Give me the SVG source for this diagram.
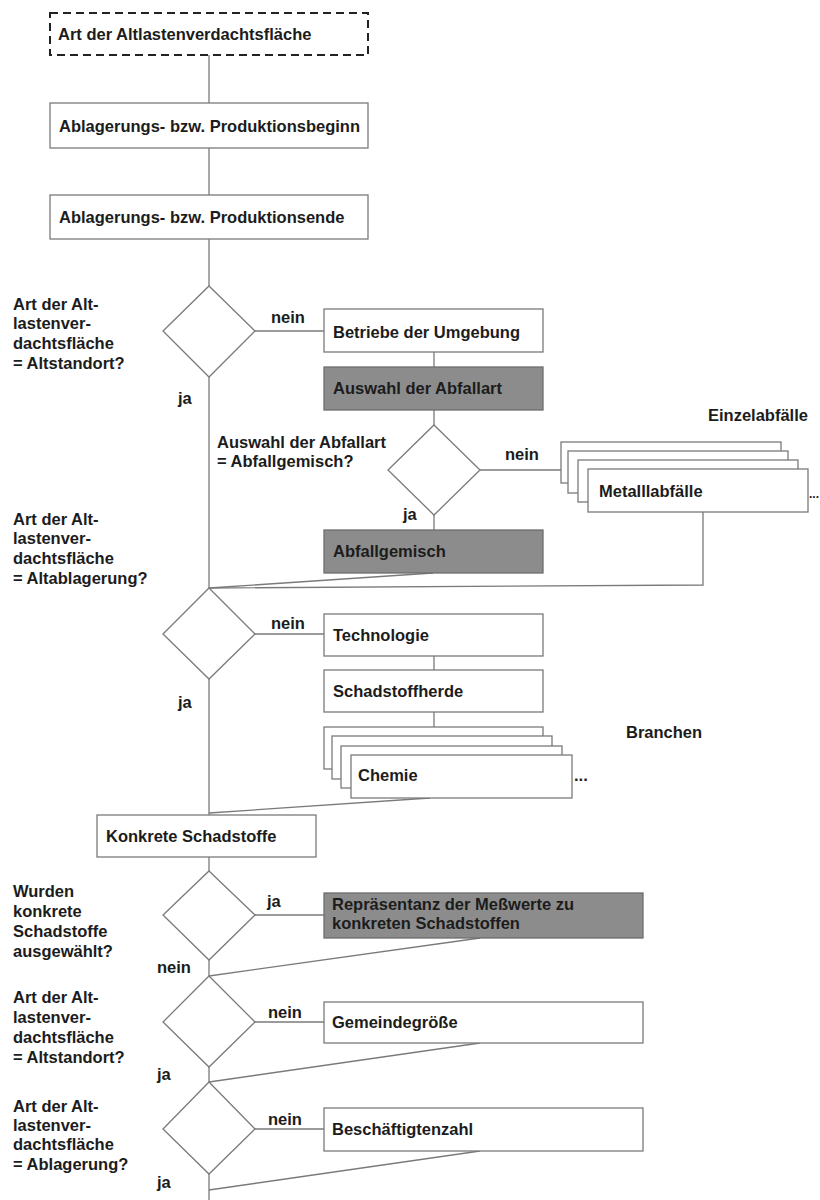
<svg xmlns="http://www.w3.org/2000/svg" width="820" height="1200" viewBox="0 0 820 1200">
<defs>
<style>
text{font-family:"Liberation Sans",Arial,sans-serif;font-weight:bold;font-size:16.5px;fill:#1c1c1c}
.sm{font-size:12px}
.box{fill:#fff;stroke:#7a7a7a;stroke-width:1.3}
.gray{fill:#8c8c8c;stroke:#6e6e6e;stroke-width:1.3}
.dia{fill:#fff;stroke:#7a7a7a;stroke-width:1.3}
.dash{fill:#fff;stroke:#222;stroke-width:2;stroke-dasharray:8 5}
.con{fill:none;stroke:#7a7a7a;stroke-width:1.3}
</style>
</defs>
<rect width="820" height="1200" fill="#fff"/>
<g id="connectors">
<line class="con" x1="209" y1="55" x2="209" y2="1200"/>
<line class="con" x1="255" y1="331" x2="324" y2="331"/>
<line class="con" x1="434" y1="352" x2="434" y2="367"/>
<line class="con" x1="434" y1="410" x2="434" y2="425"/>
<line class="con" x1="480" y1="470" x2="561" y2="470"/>
<line class="con" x1="434" y1="515" x2="434" y2="530"/>
<line class="con" x1="433" y1="573" x2="209" y2="588"/>
<polyline class="con" points="703,512 703,585 209,588"/>
<line class="con" x1="255" y1="634" x2="324" y2="634"/>
<line class="con" x1="434" y1="656" x2="434" y2="670"/>
<line class="con" x1="434" y1="712" x2="434" y2="727"/>
<line class="con" x1="430" y1="798" x2="209" y2="813"/>
<line class="con" x1="255" y1="915" x2="324" y2="915"/>
<line class="con" x1="480" y1="938" x2="209" y2="976"/>
<line class="con" x1="255" y1="1022" x2="324" y2="1022"/>
<line class="con" x1="480" y1="1043" x2="209" y2="1082"/>
<line class="con" x1="255" y1="1129" x2="324" y2="1129"/>
<line class="con" x1="480" y1="1151" x2="209" y2="1190"/>
</g>
<g id="n-art">
<rect class="dash" x="50" y="13" width="318" height="42"/>
<text x="58" y="40">Art der Altlastenverdachtsfläche</text>
</g>
<g id="n-beginn">
<rect class="box" x="50" y="103" width="318" height="45"/>
<text x="59" y="132">Ablagerungs- bzw. Produktionsbeginn</text>
</g>
<g id="n-ende">
<rect class="box" x="50" y="195" width="318" height="44"/>
<text x="59" y="223">Ablagerungs- bzw. Produktionsende</text>
</g>
<g id="d1">
<polygon class="dia" points="209,286 255,331 209,377 163,331"/>
<text x="13" y="310">Art der Alt-</text>
<text x="13" y="329">lastenver-</text>
<text x="13" y="349">dachtsfläche</text>
<text x="13" y="369">= Altstandort?</text>
<text x="271" y="323">nein</text>
<text x="178" y="404">ja</text>
</g>
<g id="n-betriebe">
<rect class="box" x="324" y="309" width="219" height="43"/>
<text x="333" y="338">Betriebe der Umgebung</text>
</g>
<g id="n-auswahl">
<rect class="gray" x="324" y="367" width="219" height="43"/>
<text x="333" y="394">Auswahl der Abfallart</text>
</g>
<g id="d2">
<polygon class="dia" points="434,425 480,470 434,515 388,470"/>
<text x="217" y="448">Auswahl der Abfallart</text>
<text x="217" y="467">= Abfallgemisch?</text>
<text x="505" y="460">nein</text>
<text x="403" y="520">ja</text>
</g>
<g id="n-einzel">
<rect class="box" x="561" y="442" width="220" height="41"/>
<rect class="box" x="568" y="451" width="220" height="42"/>
<rect class="box" x="578" y="460" width="220" height="42"/>
<rect class="box" x="588" y="469" width="220" height="43"/>
<text x="599" y="497">Metalllabfälle</text>
<text class="sm" x="809" y="498">...</text>
<text x="708" y="421">Einzelabfälle</text>
</g>
<g id="n-abfallgemisch">
<rect class="gray" x="324" y="530" width="219" height="43"/>
<text x="333" y="557">Abfallgemisch</text>
</g>
<g id="d3">
<polygon class="dia" points="209,588 255,634 209,679 163,634"/>
<text x="13" y="525">Art der Alt-</text>
<text x="13" y="544">lastenver-</text>
<text x="13" y="564">dachtsfläche</text>
<text x="13" y="584">= Altablagerung?</text>
<text x="271" y="629">nein</text>
<text x="178" y="708">ja</text>
</g>
<g id="n-technologie">
<rect class="box" x="324" y="614" width="219" height="42"/>
<text x="333" y="641">Technologie</text>
</g>
<g id="n-herde">
<rect class="box" x="324" y="670" width="219" height="42"/>
<text x="333" y="697">Schadstoffherde</text>
</g>
<g id="n-branchen">
<rect class="box" x="324" y="727" width="219" height="42"/>
<rect class="box" x="332" y="736" width="220" height="43"/>
<rect class="box" x="341" y="746" width="221" height="42"/>
<rect class="box" x="351" y="755" width="221" height="43"/>
<text x="358" y="781">Chemie</text>
<text x="574" y="781">...</text>
<text x="626" y="738">Branchen</text>
</g>
<g id="n-konkrete">
<rect class="box" x="97" y="815" width="219" height="42"/>
<text x="106" y="842">Konkrete Schadstoffe</text>
</g>
<g id="d4">
<polygon class="dia" points="209,871 255,915 209,960 163,915"/>
<text x="13" y="897">Wurden</text>
<text x="13" y="917">konkrete</text>
<text x="13" y="937">Schadstoffe</text>
<text x="13" y="957">ausgewählt?</text>
<text x="267" y="907">ja</text>
<text x="157" y="973">nein</text>
</g>
<g id="n-repraesentanz">
<rect class="gray" x="324" y="893" width="319" height="45"/>
<text x="332" y="910">Repräsentanz der Meßwerte zu</text>
<text x="332" y="929">konkreten Schadstoffen</text>
</g>
<g id="d5">
<polygon class="dia" points="209,976 255,1022 209,1067 163,1022"/>
<text x="13" y="1003">Art der Alt-</text>
<text x="13" y="1023">lastenver-</text>
<text x="13" y="1043">dachtsfläche</text>
<text x="13" y="1063">= Altstandort?</text>
<text x="268" y="1018">nein</text>
<text x="157" y="1080">ja</text>
</g>
<g id="n-gemeinde">
<rect class="box" x="324" y="1002" width="319" height="41"/>
<text x="332" y="1028">Gemeindegröße</text>
</g>
<g id="d6">
<polygon class="dia" points="209,1082 255,1129 209,1174 163,1129"/>
<text x="13" y="1112">Art der Alt-</text>
<text x="13" y="1131">lastenver-</text>
<text x="13" y="1150">dachtsfläche</text>
<text x="13" y="1170">= Ablagerung?</text>
<text x="268" y="1125">nein</text>
<text x="157" y="1188">ja</text>
</g>
<g id="n-beschaeftigte">
<rect class="box" x="324" y="1108" width="319" height="43"/>
<text x="332" y="1135">Beschäftigtenzahl</text>
</g>
</svg>
